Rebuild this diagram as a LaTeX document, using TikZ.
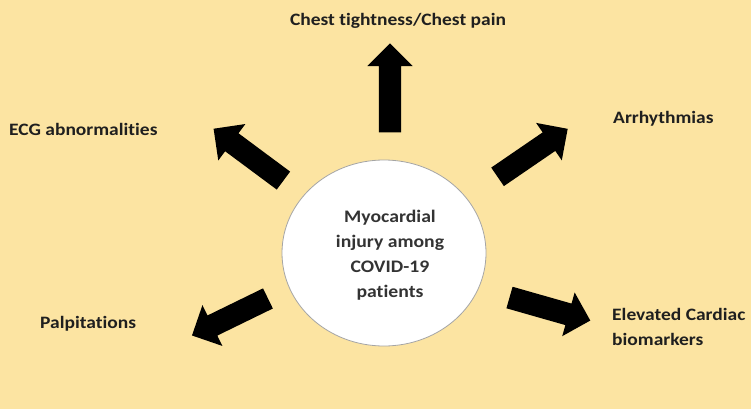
\documentclass[tikz,border=0pt]{standalone}
\usepackage{fontspec}
\setmainfont{Carlito}[FakeStretch=1.12,Ligatures=CommonOff]
\usetikzlibrary{shapes.arrows,shapes.geometric}
\definecolor{bg}{RGB}{252,228,162}
\definecolor{rim}{RGB}{165,165,165}
\begin{document}
\begin{tikzpicture}[x=1pt,y=-1pt,
  blockarrow/.style={single arrow, fill=black, draw=none, inner xsep=0pt, inner ysep=11pt, single arrow head extend=11.5pt, minimum height=#1},
  lbl/.style={font=\fontsize{17.4}{25}\selectfont\bfseries, inner sep=0pt, text=black!88},
  corelbl/.style={font=\fontsize{17.6}{24.7}\selectfont\bfseries, inner sep=0pt, text=black!80}]
\fill[bg] (0,0) rectangle (751,409);
\useasboundingbox (0,0) rectangle (751,409);
\node[ellipse, draw=rim, line width=0.8pt, fill=white, minimum width=204pt, minimum height=186pt, inner sep=0pt] (hub) at (384,253) {};
\node[corelbl, align=center, anchor=base] (core) at (390,297) {Myocardial\\injury among\\COVID-19\\patients};
\node[blockarrow=89pt, rotate=90] (a1) at (390,93.5) {};
\node[blockarrow=87pt, rotate=143.4] (a2) at (253,158) {};
\node[blockarrow=85pt, rotate=34.4] (a3) at (528,156) {};
\node[blockarrow=84.5pt, rotate=206] (a4) at (235,314.5) {};
\node[blockarrow=84pt, rotate=-15.9] (a5) at (544.5,307.5) {};
\node[lbl, anchor=base] (t1) at (398,26) {Chest tightness/Chest pain};
\node[lbl, anchor=base west] (t2) at (9,135) {ECG abnormalities};
\node[lbl, anchor=base west] (t3) at (613,123) {Arrhythmias};
\node[lbl, anchor=base west] (t4) at (40,328) {Palpitations};
\node[lbl, anchor=base west, align=left] (t5) at (612,345) {Elevated Cardiac\\biomarkers};
\end{tikzpicture}
\end{document}
